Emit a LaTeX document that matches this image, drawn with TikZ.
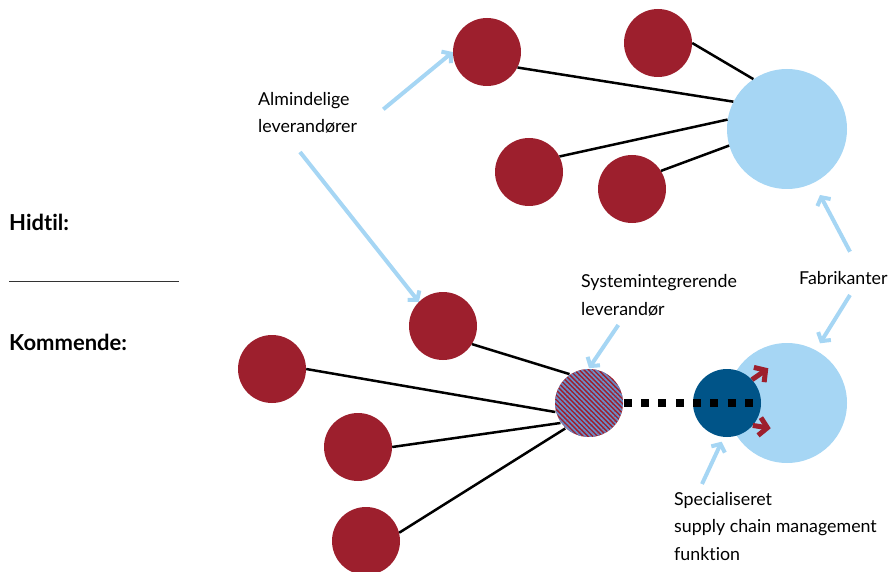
\documentclass[tikz,border=0pt]{standalone}
\usepackage{fontspec}
\setmainfont{Lato}[Ligatures=NoCommon]
\usepackage{tikz}
\usetikzlibrary{arrows.meta,patterns.meta}
\definecolor{supred}{RGB}{157,31,45}
\definecolor{fablight}{RGB}{166,214,244}
\definecolor{scmblue}{RGB}{0,84,136}
\definecolor{stripeblue}{RGB}{105,142,202}
\tikzset{
  supplier/.style={circle,fill=supred,minimum size=68pt,inner sep=0pt},
  maker/.style={circle,fill=fablight,minimum size=120pt,inner sep=0pt},
  link/.style={line width=2.5pt,black},
  pointer/.style={line width=4pt,fablight,-{Straight Barb[length=6pt,width=15pt]}},
  push/.style={line width=5pt,supred,-{Straight Barb[length=8pt,width=18pt]}},
  lbl/.style={anchor=base west,align=left,inner sep=0pt,font=\fontsize{17.8}{27.5}\selectfont},
  head/.style={anchor=base west,inner sep=0pt,font=\fontsize{22}{26}\selectfont\bfseries}
}
\begin{document}
\begin{tikzpicture}[x=1pt,y=-1pt]
    \useasboundingbox (0,0) rectangle (891,572);

    % hidtil
    \node[supplier] (A) at (487,52) {};
    \node[supplier] (B) at (658,43) {};
    \node[supplier] (C) at (529,172) {};
    \node[supplier] (D) at (632,189) {};
    \node[maker] (E) at (787,129) {};
    \draw[link] (A.-27) -- (E.153);
    \draw[link] (B.0) -- (E.124);
    \draw[link] (C.27) -- (E.171);
    \draw[link] (D.32) -- (E.196);

    % kommende
    \node[maker] (U) at (787,403) {};
    \node[supplier] (F) at (443,326) {};
    \node[supplier] (G) at (272,369) {};
    \node[supplier] (H) at (358,447) {};
    \node[supplier] (I) at (366,541) {};
    \node[circle,minimum size=68pt,inner sep=0pt,preaction={fill=supred},
      pattern={Lines[angle=-45,distance=3.4pt,line width=1.7pt]},
      pattern color=stripeblue] (S) at (589,403) {};
    \node[circle,minimum size=68pt,inner sep=0pt,fill=scmblue] (T) at (727,403) {};
    \draw[link] (F.-32) -- (S.124);
    \draw[link] (G.0) -- (S.195);
    \draw[link] (H.0) -- (S.215);
    \draw[link] (I.14) -- (S.227);
    \draw[line width=8pt,dash pattern=on 8pt off 9.3pt] (S.east) -- (T.east);
    \coordinate (ru) at (768.3,368.3);
    \coordinate (rd) at (770.7,428.3);
    \draw[push] (T.43) -- (ru);
    \draw[push] (T.-41) -- (rd);

    % labels
    \node[head] (hidtil) at (9,230) {Hidtil:};
    \node[head] (komm) at (9,350) {Kommende:};
    \draw[black!80,line width=1pt] (9,281.7) -- (179,281.7);
    \node[lbl] (alm) at (258,133) {Almindelige\\leverandører};
    \node[lbl] (sys) at (581,315) {Systemintegrerende\\leverandør};
    \node[lbl] (fab) at (799,284) {Fabrikanter};
    \node[lbl] (spec) at (674,560) {Specialiseret\\supply chain management\\funktion};

    % pointers
    \coordinate (alm up) at (383.3,109.3);
    \coordinate (alm down) at (300,152);
    \coordinate (sys down) at (618.3,325);
    \coordinate (fab up) at (850,251.7);
    \coordinate (fab down) at (850,295);
    \coordinate (spec up) at (702,484);
    \coordinate (E tip) at (820,195);
    \coordinate (U tip) at (820,343.3);
    \coordinate (T tip) at (721.7,441.7);
    \draw[pointer] (alm up) -- (A.west);
    \draw[pointer] (alm down) -- (F.135);
    \draw[pointer] (sys down) -- (S.north);
    \draw[pointer] (fab up) -- (E tip);
    \draw[pointer] (fab down) -- (U tip);
    \draw[pointer] (spec up) -- (T tip);
\end{tikzpicture}
\end{document}
